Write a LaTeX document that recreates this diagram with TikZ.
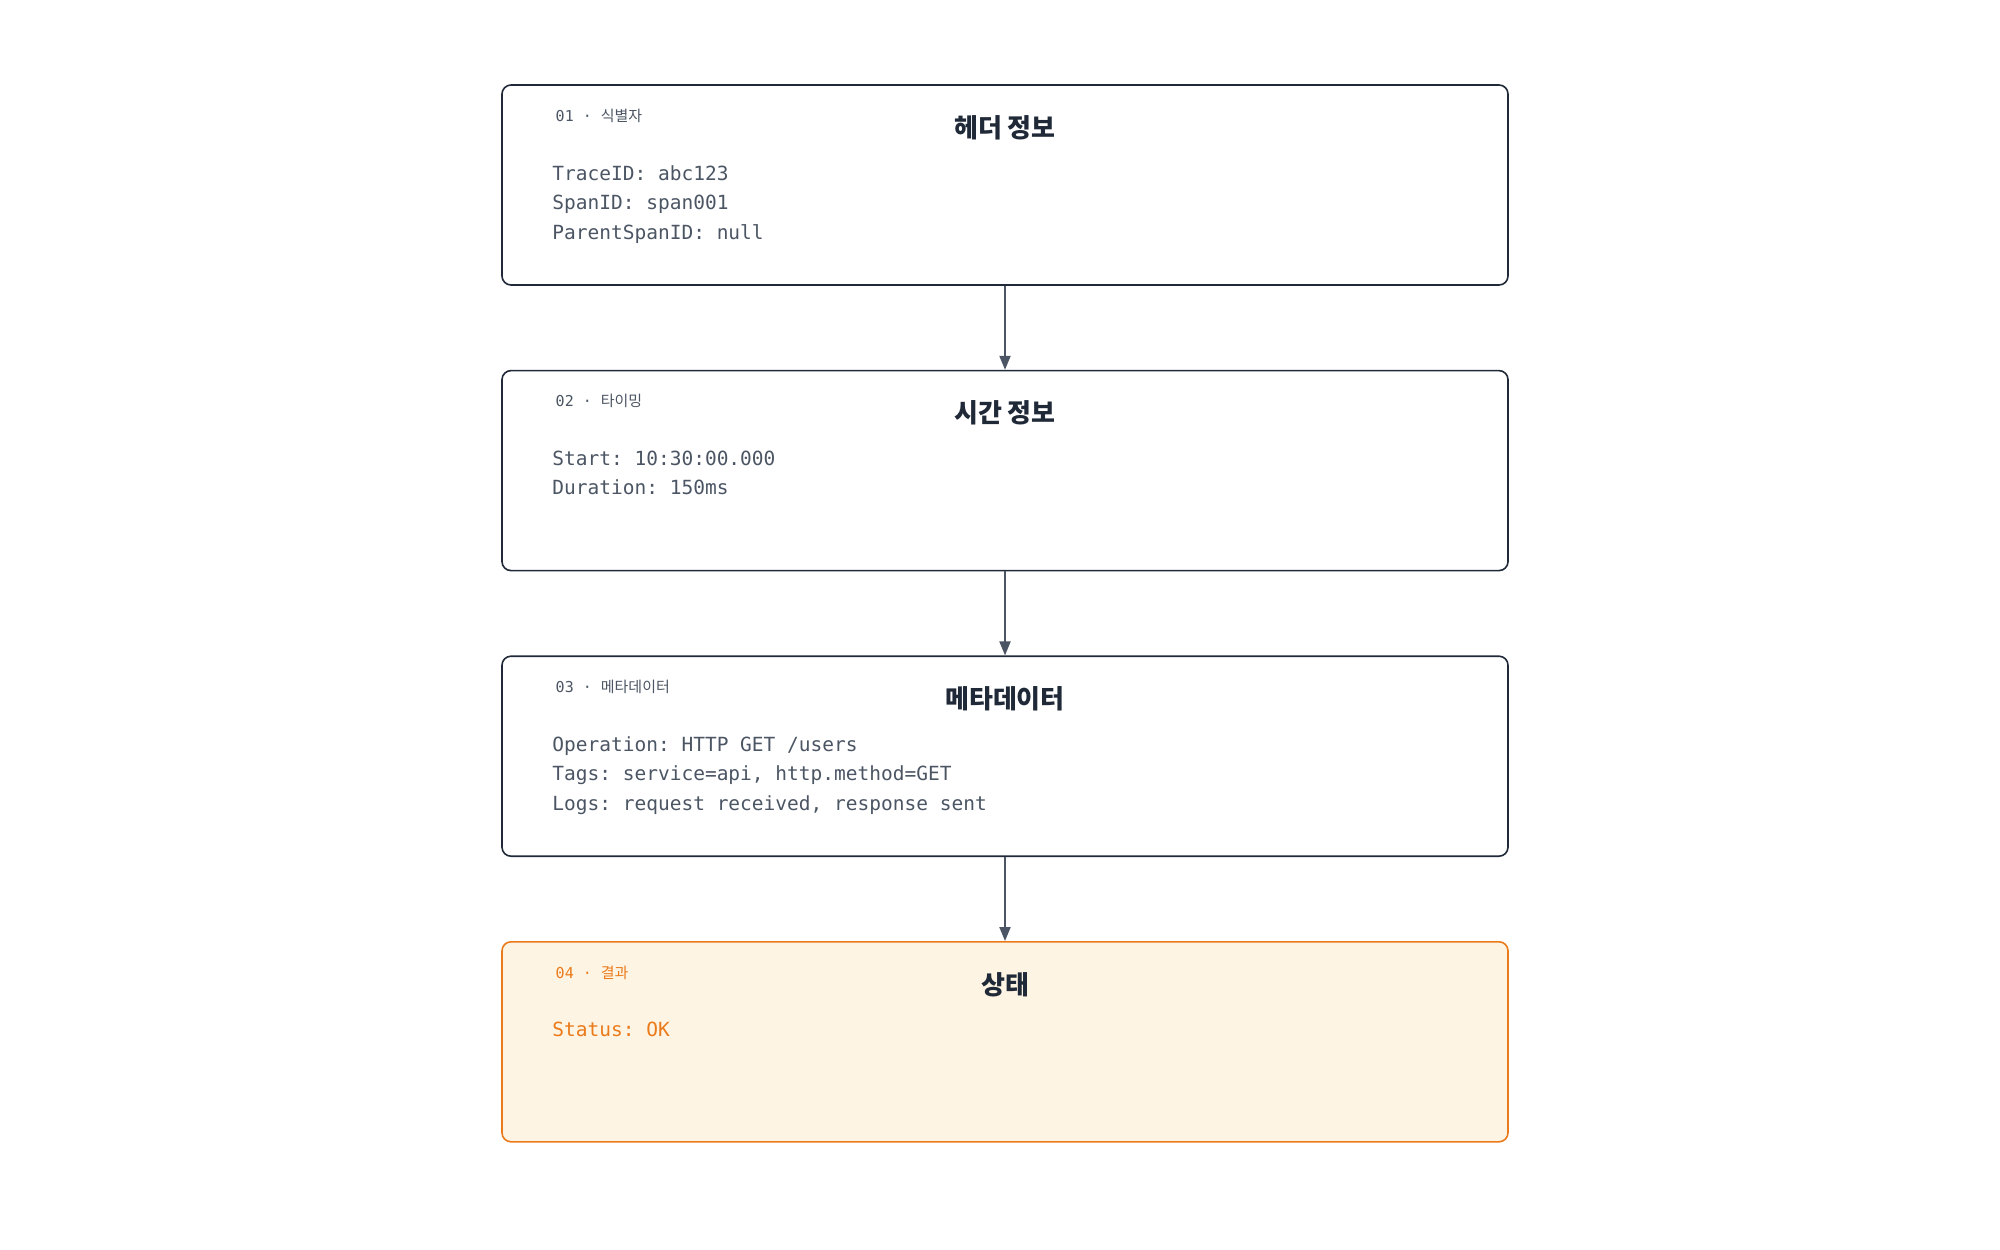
\documentclass[tikz,border=0pt]{standalone}
\usepackage{fontspec}
\setmainfont{Noto Sans CJK KR}
\setmonofont{DejaVu Sans Mono}
\newfontfamily\cjk{Noto Sans CJK KR}
\usetikzlibrary{positioning,arrows.meta}
\definecolor{ink}{HTML}{1F2937}
\definecolor{wire}{HTML}{4B5563}
\definecolor{accent}{HTML}{EA7A1A}
\definecolor{cream}{HTML}{FEF4E3}
\tikzset{
  stage/.style={draw=ink,line width=1.6pt,rounded corners=9pt,minimum width=1006pt,minimum height=200pt,inner sep=0pt},
  hot/.style={stage,draw=accent,fill=cream},
  tag/.style={anchor=base west,font=\fontsize{15}{15}\selectfont\ttfamily,text=wire},
  head/.style={anchor=base,font=\fontsize{26}{26}\selectfont\bfseries,text=ink},
  body/.style={anchor=north west,inner sep=0pt,align=left,font=\fontsize{19.5}{29.5}\selectfont\ttfamily,text=wire},
  flow/.style={draw=wire,line width=2pt,-{Triangle[length=14pt,width=11pt]}}
}
\begin{document}
\begin{tikzpicture}[x=1pt,y=-1pt]
\useasboundingbox (0,0) rectangle (2000,1250);
\node[stage] (hdr) at (1005,185) {};
\node[stage,below=84pt of hdr] (tim) {};
\node[stage,below=84pt of tim] (meta) {};
\node[hot,below=84pt of meta] (res) {};
% labels
\node[tag] at ([xshift=51pt,yshift=-37pt]hdr.north west) {01 · {\cjk 식별자}};
\node[head] at ([yshift=-53pt]hdr.north) {헤더 정보};
\node[body] at ([xshift=51pt,yshift=-81pt]hdr.north west) {TraceID: abc123\\SpanID: span001\\ParentSpanID: null};
\node[tag] at ([xshift=51pt,yshift=-37pt]tim.north west) {02 · {\cjk 타이밍}};
\node[head] at ([yshift=-53pt]tim.north) {시간 정보};
\node[body] at ([xshift=51pt,yshift=-81pt]tim.north west) {Start: 10:30:00.000\\Duration: 150ms};
\node[tag] at ([xshift=51pt,yshift=-37pt]meta.north west) {03 · {\cjk 메타데이터}};
\node[head] at ([yshift=-53pt]meta.north) {메타데이터};
\node[body] at ([xshift=51pt,yshift=-81pt]meta.north west) {Operation: HTTP GET /users\\Tags: service=api, http.method=GET\\Logs: request received, response sent};
\node[tag,text=accent] at ([xshift=51pt,yshift=-37pt]res.north west) {04 · {\cjk 결과}};
\node[head] at ([yshift=-53pt]res.north) {상태};
\node[body,text=accent] at ([xshift=51pt,yshift=-81pt]res.north west) {Status: OK};
% arrows
\draw[flow] (hdr) -- (tim);
\draw[flow] (tim) -- (meta);
\draw[flow] (meta) -- (res);
\end{tikzpicture}
\end{document}
